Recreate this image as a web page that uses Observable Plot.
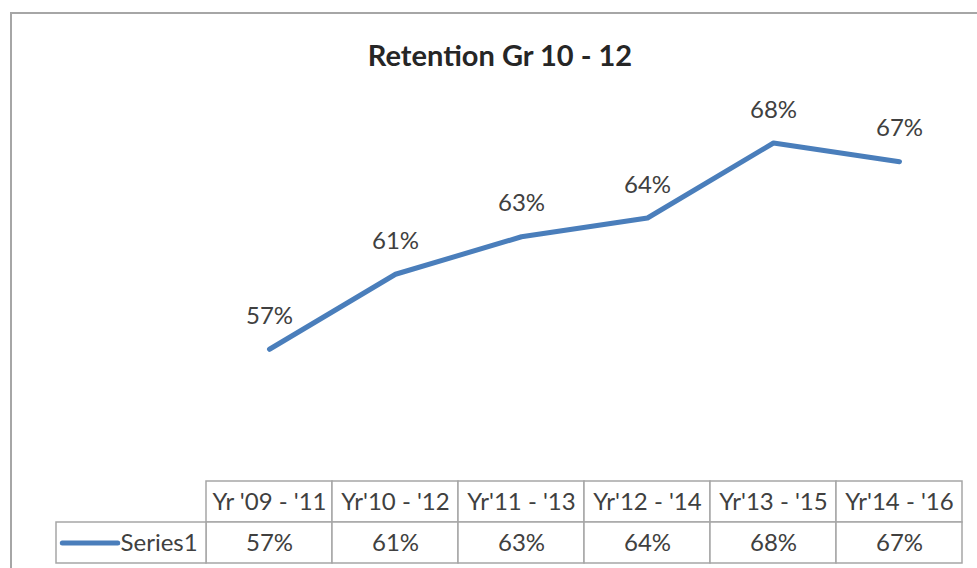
<!DOCTYPE html>
<html><head><meta charset="utf-8">
<script src="https://cdn.jsdelivr.net/npm/d3@7"></script>
<script src="https://cdn.jsdelivr.net/npm/@observablehq/plot@0.6"></script>
<style>
body{margin:0;background:#fff;width:977px;height:568px;overflow:hidden;position:relative;font-family:Lato,"Open Sans",sans-serif;}
#frame{position:absolute;left:10px;top:12px;width:1100px;height:700px;border:2px solid #a6a6a6;box-sizing:border-box;}
#title{position:absolute;left:0;width:1000px;top:37px;text-align:center;font:bold 29px Lato,sans-serif;color:#262626;line-height:36px;}
#chart{position:absolute;left:0;top:0;}
#table{position:absolute;left:0;top:478px;}
</style></head><body>
<div id="frame"></div>
<div id="title">Retention Gr 10 - 12</div>
<div id="chart"></div>
<div id="table"></div>
<script>
const categories = ["Yr '09 - '11", "Yr'10 - '12", "Yr'11 - '13", "Yr'12 - '14", "Yr'13 - '15", "Yr'14 - '16"];
const values = [0.57, 0.61, 0.63, 0.64, 0.68, 0.67];
const seriesName = "Series1";
const yDomain = [0.5, 0.7];

const lineColor = "#4a7ebb";
const gridColor = "#a6a6a6";
const textColor = "#404040";
const fmt = d3.format(".0%");

const data = categories.map((c, i) => ({cat: c, i, value: values[i]}));
// legend column is 150px wide vs 126px for category columns
const legendUnits = 150 / 126;
const xScale = {type: "linear", domain: [-0.5 - legendUnits, categories.length - 0.5], axis: null};
const common = {width: 977, marginLeft: 56, marginRight: 15, style: {fontFamily: "Lato, sans-serif", background: "transparent"}};

const chart = Plot.plot({
  ...common,
  height: 481, marginTop: 105, marginBottom: 1,
  x: xScale,
  y: {domain: yDomain, axis: null},
  marks: [
    Plot.line(data, {x: "i", y: "value", stroke: lineColor, strokeWidth: 5, strokeLinecap: "round", strokeLinejoin: "round"}),
    Plot.text(data, {x: "i", y: "value", text: d => fmt(d.value), dy: -33, fontSize: 24, fill: textColor})
  ]
});
document.getElementById("chart").appendChild(chart);

const headerCells = data.map(d => ({col: d.i, row: 0, text: d.cat}));
const valueCells = data.map(d => ({col: d.i, row: 1, text: fmt(d.value)}));
const cells = headerCells.concat(valueCells);
const legendCell = [{row: 1, name: seriesName}];

const table = Plot.plot({
  ...common,
  height: 90, marginTop: 3, marginBottom: 5,
  x: xScale,
  y: {type: "linear", domain: [2, 0], axis: null},
  marks: [
    Plot.rect(cells, {x1: d => d.col - 0.5, x2: d => d.col + 0.5, y1: "row", y2: d => d.row + 1, fill: "white", stroke: gridColor, strokeWidth: 1.5}),
    Plot.rect(legendCell, {x1: -0.5 - legendUnits, x2: -0.5, y1: "row", y2: d => d.row + 1, fill: "white", stroke: gridColor, strokeWidth: 1.5}),
    Plot.text(cells, {x: "col", y: d => d.row + 0.5, text: "text", fontSize: 24, fill: textColor}),
    Plot.ruleY(legendCell, {y: d => d.row + 0.5, x1: -0.5 - legendUnits + 0.05, x2: -0.5 - legendUnits + 0.49, stroke: lineColor, strokeWidth: 5, strokeLinecap: "round"}),
    Plot.text(legendCell, {x: -0.57, y: d => d.row + 0.5, text: "name", textAnchor: "end", fontSize: 24, fill: textColor})
  ]
});
document.getElementById("table").appendChild(table);
</script>
</body></html>
